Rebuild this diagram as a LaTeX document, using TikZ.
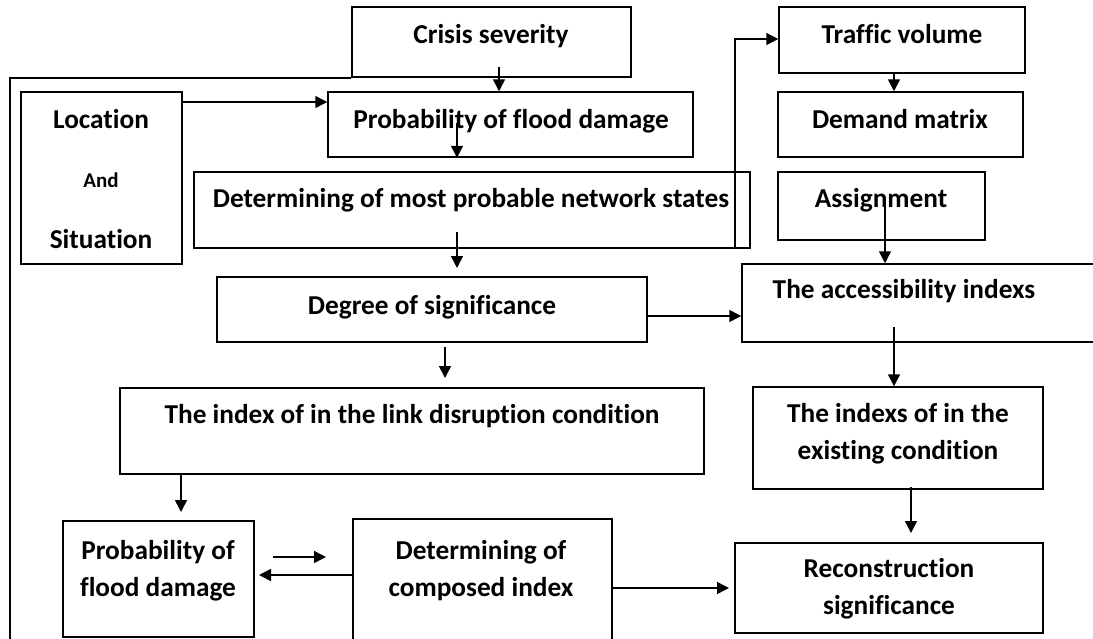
\documentclass[tikz,border=0pt]{standalone}
\usepackage{fontspec}
\setmainfont{Carlito}[Ligatures=NoCommon]
\usetikzlibrary{arrows.meta}

\begin{document}
\begin{tikzpicture}[x=1pt, y=-1pt, line width=1.5pt,
    >={Triangle[length=12pt,width=12pt]},
    box/.style={draw, inner sep=0pt},
    txt/.style={font=\fontsize{27.3}{37}\selectfont\bfseries, align=center, inner sep=0pt}]

    \useasboundingbox (0,0) rectangle (1093,638);

    % boxes
    \node[box, minimum width=279, minimum height=70] (crisis) at (491.5,42) {};
    \node[box, minimum width=365, minimum height=65] (prob) at (510.5,124.5) {};
    \node[box, minimum width=161, minimum height=172] (loc) at (101.5,178) {};
    \node[box, minimum width=556, minimum height=76] (det) at (472,210) {};
    \node[box, minimum width=430, minimum height=65] (deg) at (432,309.5) {};
    \node[box, minimum width=584, minimum height=86] (idx) at (412,431) {};
    \node[box, minimum width=191, minimum height=116] (prob2) at (158.5,579) {};
    \node[box, minimum width=259, minimum height=131] (comp) at (482.5,584.5) {};
    \node[box, minimum width=246, minimum height=66] (traffic) at (902,40) {};
    \node[box, minimum width=245, minimum height=65] (demand) at (900.5,124.5) {};
    \node[box, minimum width=207, minimum height=68] (assign) at (881.5,206) {};
    \node[box, minimum width=368, minimum height=78] (acc) at (926,303) {};
    \node[box, minimum width=290, minimum height=102] (exist) at (898,438) {};
    \node[box, minimum width=308, minimum height=90] (recon) at (889,588) {};

    % texts
    \node[txt, anchor=base] (crisis-t) at (491,43) {Crisis severity};
    \node[txt, anchor=base] (prob-t) at (511,128) {Probability of flood damage};
    \node[txt, anchor=base] (loc-t1) at (101,128) {Location};
    \node[txt, anchor=base, font=\fontsize{21}{25}\selectfont\bfseries] (loc-t2) at (101,187) {And};
    \node[txt, anchor=base] (loc-t3) at (101,248) {Situation};
    \node[txt, anchor=base] (det-t) at (471,207) {Determining of most probable network states};
    \node[txt, anchor=base] (deg-t) at (432,314) {Degree of significance};
    \node[txt, anchor=base] (idx-t) at (412,423) {The index of in the link disruption condition};
    \node[txt] (prob2-t) at (158,571) {Probability of\\flood damage};
    \node[txt] (comp-t) at (481,571) {Determining of\\composed index};
    \node[txt, anchor=base] (traffic-t) at (902,43) {Traffic volume};
    \node[txt, anchor=base] (demand-t) at (900,128) {Demand matrix};
    \node[txt, anchor=base] (assign-t) at (881,207) {Assignment};
    \node[txt, anchor=base] (acc-t) at (904,298) {The accessibility indexs};
    \node[txt] (exist-t) at (898,434) {The indexs of in the\\existing condition};
    \node[txt] (recon-t) at (889,589) {Reconstruction\\significance};

    % free ends of connectors
    \coordinate (crisis-out) at (499,67);
    \coordinate (prob-out) at (457,123);
    \coordinate (det-out) at (457,232);
    \coordinate (deg-in) at (457,268);
    \coordinate (deg-out) at (445,347);
    \coordinate (idx-in) at (445,378);
    \coordinate (prob2-in) at (181,512);
    \coordinate (pair-a) at (273,557);
    \coordinate (pair-b) at (326,557);
    \coordinate (prob2-back) at (259,575);
    \coordinate (recon-in) at (729,588);
    \coordinate (assign-out) at (885,207);
    \coordinate (acc-out) at (894,327);
    \coordinate (exist-out) at (911,487);
    \coordinate (recon-top) at (911,533);
    \coordinate (side-end) at (10,645);

    % connectors
    \draw[->] (crisis-out) -- (crisis-out |- prob.north);
    \draw[->] (loc.east |- 0,102) -- (prob.west |- 0,102);
    \draw[->] (prob-out) -- (prob-out |- prob.south);
    \draw[->] (det-out) -- (deg-in);
    \draw[->] (deg-out) -- (idx-in);
    \draw[->] (idx.south -| prob2-in) -- (prob2-in);
    \draw[->] (pair-a) -- (pair-b);
    \draw[->] (comp.west |- prob2-back) -- (prob2-back);
    \draw[->] (comp.east |- recon-in) -- (recon-in);
    \draw[->] (deg.east |- 0,316) -- (acc.west |- 0,316);
    \draw[->] (det.south -| 735,0) |- (traffic.west |- 0,39);
    \draw[->] (traffic.south -| 894,0) -- (demand.north -| 894,0);
    \draw[->] (assign-out) -- (assign-out |- acc.north);
    \draw[->] (acc-out) -- (acc-out |- exist.north);
    \draw[->] (exist-out) -- (recon-top);
    \draw (crisis.south west) -| (side-end);

\end{tikzpicture}
\end{document}
